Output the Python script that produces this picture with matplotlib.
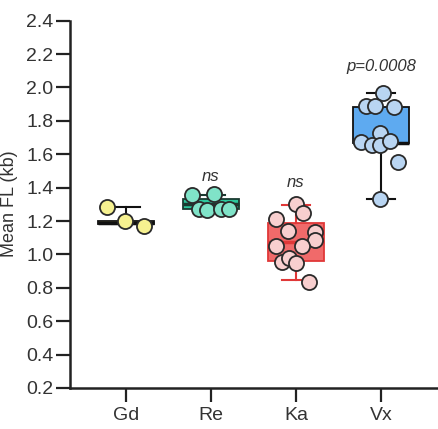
import matplotlib
matplotlib.use("Agg")
import matplotlib.pyplot as plt

plt.rcParams['font.family'] = ['Liberation Sans', 'DejaVu Sans']

groups = ["Gd", "Re", "Ka", "Vx"]

# individual points (values) and horizontal swarm offsets
gd_vals = [1.286, 1.200, 1.172]
gd_jit = [-0.23, -0.01, 0.21]
re_vals = [1.355, 1.360, 1.272, 1.268, 1.270, 1.272]
re_jit = [-0.22, 0.03, -0.14, -0.05, 0.12, 0.21]
ka_vals = [1.300, 1.246, 1.212, 1.140, 1.132, 1.086, 1.052, 1.052, 0.956, 0.976, 0.946, 0.833]
ka_jit = [0.0, 0.08, -0.23, -0.09, 0.22, 0.22, -0.23, 0.07, -0.16, -0.08, 0.0, 0.15]
vx_vals = [1.965, 1.889, 1.889, 1.885, 1.725, 1.675, 1.655, 1.655, 1.681, 1.555, 1.330]
vx_jit = [0.03, -0.17, -0.07, 0.15, -0.01, -0.23, -0.11, -0.01, 0.11, 0.20, -0.01]

# box summary statistics
whislo = [1.180, 1.270, 0.846, 1.330]
q1 = [1.180, 1.272, 0.962, 1.665]
med = [1.190, 1.300, 1.076, 1.670]
q3 = [1.200, 1.335, 1.190, 1.885]
whishi = [1.285, 1.355, 1.294, 1.965]

annotations = ["", "ns", "ns", "p=0.0008"]
annot_y = [None, 1.465, 1.428, 2.124]

box_face = ["#f4ef86", "#2cc79c", "#f06a6a", "#5eaaf0"]
box_edge = ["#111111", "#1a3a30", "#e03838", "#111111"]
pt_face = ["#f6f190", "#80e3c8", "#f8cfcf", "#b9d5f2"]

fig = plt.figure(figsize=(4.39, 4.29), dpi=100)
ax = fig.add_axes([70/439, 1-388/429, 367/439, (388-20.7)/429])

positions = [1, 2, 3, 4]
stats = []
for i, g in enumerate(groups):
    stats.append(dict(label=g, whislo=whislo[i], q1=q1[i], med=med[i],
                      q3=q3[i], whishi=whishi[i], fliers=[]))

for i in range(4):
    ax.bxp([stats[i]], positions=[positions[i]], widths=0.66, patch_artist=True,
           capwidths=0.33, showfliers=False,
           boxprops=dict(facecolor=box_face[i], edgecolor=box_edge[i], linewidth=1.3),
           whiskerprops=dict(color=box_edge[i], linewidth=1.5),
           capprops=dict(color=box_edge[i], linewidth=1.5),
           medianprops=dict(color=box_edge[i], linewidth=2.5),
           manage_ticks=False)

all_vals = [gd_vals, re_vals, ka_vals, vx_vals]
all_jit = [gd_jit, re_jit, ka_jit, vx_jit]
for i in range(4):
    xs = [positions[i] + j for j in all_jit[i]]
    ax.scatter(xs, all_vals[i], s=118, facecolor=pt_face[i], edgecolor="#2a2a2a",
               linewidth=1.3, zorder=5, clip_on=False)

for i in range(4):
    if annotations[i]:
        ax.text(positions[i], annot_y[i], annotations[i], ha="center", va="center",
                fontsize=12, style="italic", color="#333333")

ax.set_xlim(0.34, 4.66)
ax.set_ylim(0.2, 2.4)
ax.set_yticks([0.2, 0.4, 0.6, 0.8, 1.0, 1.2, 1.4, 1.6, 1.8, 2.0, 2.2, 2.4])
ax.set_yticklabels(["0.2", "0.4", "0.6", "0.8", "1.0", "1.2", "1.4", "1.6", "1.8", "2.0", "2.2", "2.4"])
ax.set_xticks(positions)
ax.set_xticklabels(groups)
ax.tick_params(axis="both", length=10, width=1.6, labelsize=14, color="#222222",
               labelcolor="#333333")
ax.tick_params(axis="x", pad=4)
ax.tick_params(axis="y", pad=2)
for s in ["top", "right"]:
    ax.spines[s].set_visible(False)
for s in ["left", "bottom"]:
    ax.spines[s].set_linewidth(1.8)
    ax.spines[s].set_color("#222222")

fig.text(10/439, 1-204/429, "Mean FL (kb)", rotation=90, ha="center", va="center",
         fontsize=13, color="#333333")

fig.savefig("out.png", dpi=100)
